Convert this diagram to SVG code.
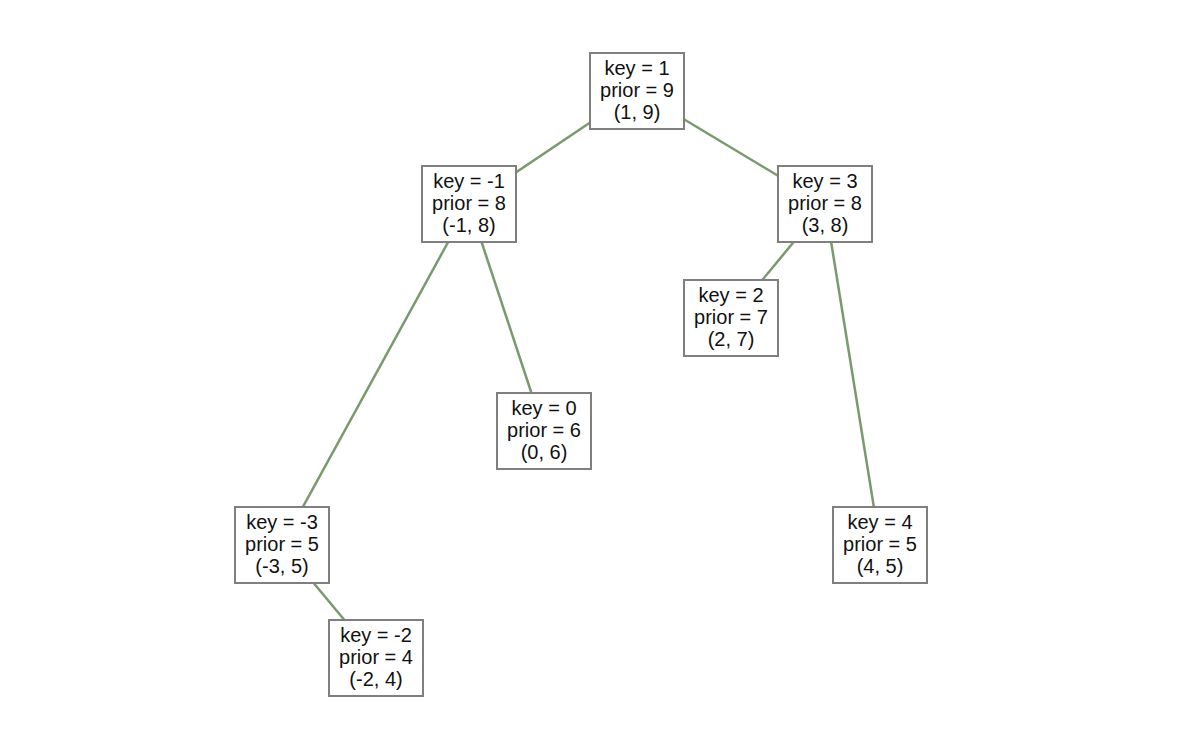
<svg xmlns="http://www.w3.org/2000/svg" width="1200" height="750" viewBox="0 0 1200 750">
<style>
.e{stroke:#789a6c;stroke-width:2.5;fill:none}
.b{fill:#fff;stroke:#7f7f7f;stroke-width:2}
text{font-family:"Liberation Sans",Arial,sans-serif;font-size:20px;fill:#111;text-anchor:middle}
</style>
<rect width="1200" height="750" fill="#fff"/>
<g id="edges">
<line class="e" x1="637" y1="91" x2="469" y2="204"/>
<line class="e" x1="637" y1="91" x2="825" y2="204"/>
<line class="e" x1="469" y1="204" x2="282" y2="545"/>
<line class="e" x1="469" y1="204" x2="544" y2="431"/>
<line class="e" x1="825" y1="204" x2="731" y2="318"/>
<line class="e" x1="825" y1="204" x2="880" y2="545"/>
<line class="e" x1="282" y1="545" x2="376" y2="658"/>
</g>
<g id="n1"><rect class="b" x="590" y="53" width="94" height="76"/><text x="637" y="75">key = 1</text><text x="637" y="97">prior = 9</text><text x="637" y="119">(1, 9)</text></g>
<g id="nm1"><rect class="b" x="422" y="166" width="94" height="76"/><text x="469" y="188">key = -1</text><text x="469" y="210">prior = 8</text><text x="469" y="232">(-1, 8)</text></g>
<g id="n3"><rect class="b" x="778" y="166" width="94" height="76"/><text x="825" y="188">key = 3</text><text x="825" y="210">prior = 8</text><text x="825" y="232">(3, 8)</text></g>
<g id="n2"><rect class="b" x="684" y="280" width="94" height="76"/><text x="731" y="302">key = 2</text><text x="731" y="324">prior = 7</text><text x="731" y="346">(2, 7)</text></g>
<g id="n0"><rect class="b" x="497" y="393" width="94" height="76"/><text x="544" y="415">key = 0</text><text x="544" y="437">prior = 6</text><text x="544" y="459">(0, 6)</text></g>
<g id="nm3"><rect class="b" x="235" y="507" width="94" height="76"/><text x="282" y="529">key = -3</text><text x="282" y="551">prior = 5</text><text x="282" y="573">(-3, 5)</text></g>
<g id="n4"><rect class="b" x="833" y="507" width="94" height="76"/><text x="880" y="529">key = 4</text><text x="880" y="551">prior = 5</text><text x="880" y="573">(4, 5)</text></g>
<g id="nm2"><rect class="b" x="329" y="620" width="94" height="76"/><text x="376" y="642">key = -2</text><text x="376" y="664">prior = 4</text><text x="376" y="686">(-2, 4)</text></g>
</svg>
